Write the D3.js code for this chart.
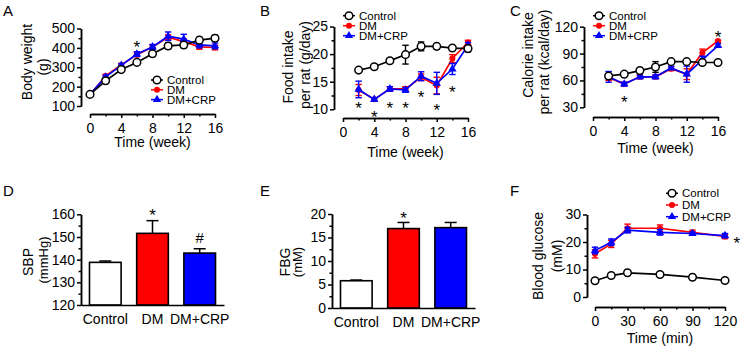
<!doctype html>
<html>
<head>
<meta charset="UTF-8">
<title>DM / CRP panels</title>
<script src="https://d3js.org/d3.v7.min.js"></script>
<style>
  body{margin:0;background:#fff;}
  svg{font-family:"Liberation Sans", Arial, sans-serif;}
  .axis path,.axis line{stroke:#000;stroke-width:1.5;}
  .axis text{font-size:14px;fill:#000;}
</style>
</head>
<body>
<svg id="fig" width="744" height="350"></svg>
<script>
// ---------------- data ----------------
var groups = ["Control", "DM", "DM+CRP"];

// A: body weight (g)
var weeks = [0, 2, 4, 6, 8, 10, 12, 14, 16];
var bwControl = [160, 230, 288, 325, 370, 410, 415, 440, 450];
var bwControlErr = [8, 8, 8, 8, 10, 15, 15, 15, 15];
var bwDM = [158, 255, 312, 365, 405, 455, 432, 405, 402];
var bwDMErr = [8, 8, 8, 10, 12, 12, 15, 12, 12];
var bwCRP = [160, 250, 310, 368, 405, 460, 445, 415, 410];
var bwCRPErr = [8, 8, 8, 12, 12, 22, 25, 15, 15];
var bwStars = [[6, 430]];

// B: food intake (g/day)
var weeksB = [2, 4, 6, 8, 10, 12, 14, 16];
var fiControl = [17.1, 17.7, 18.8, 19.9, 21.4, 21.4, 21.1, 21.0];
var fiControlErr = [0.2, 0.2, 0.2, 1.7, 0.8, 0.5, 0.3, 0.6];
var fiDM = [13.5, 11.8, 13.7, 13.7, 15.8, 14.3, 19.2, 22.1];
var fiDMErr = [1.0, 0.3, 0.4, 0.4, 0.6, 1.5, 0.7, 0.4];
var fiCRP = [13.6, 11.8, 13.7, 13.5, 16.0, 14.7, 17.3, 21.6];
var fiCRPErr = [1.5, 0.3, 0.4, 0.4, 0.8, 2.0, 1.0, 0.5];
var fiStars = [[2, 11.0], [4, 9.5], [6, 11.1], [8, 11.0], [10, 13.1], [12, 10.7], [14, 14.0]];

// C: calorie intake (kcal/day)
var ciControl = [65, 67, 71, 75, 81, 81, 80, 80];
var ciControlErr = [2, 1, 1, 6, 2, 2, 2, 1];
var ciDM = [63, 56, 64, 64, 73, 67, 91, 104];
var ciDMErr = [3, 2, 2, 2, 2, 6, 4, 1];
var ciCRP = [64, 56, 64, 64, 74, 67, 83, 99];
var ciCRPErr = [6, 2, 2, 2, 2, 9, 4, 2];
var ciStars = [[4, 41], [16, 114]];

// D: SBP (mmHg)
var sbp = [138.8, 151.6, 142.9];
var sbpErr = [0.6, 5.6, 1.9];
var sbpMarks = [["", 0], ["*", 161.8], ["#", 149.5]];

// E: FBG (mM)
var fbg = [5.8, 16.9, 17.1];
var fbgErr = [0.15, 1.3, 1.1];
var fbgMarks = [["", 0], ["*", 20.2], ["", 0]];

// F: blood glucose (mM)
var minutes = [0, 15, 30, 60, 90, 120];
var bgControl = [5.9, 7.8, 8.8, 8.2, 7.2, 6.0];
var bgControlErr = [0.3, 0.3, 0.3, 0.3, 0.3, 0.3];
var bgDM = [15.7, 19.3, 25.0, 25.0, 23.5, 22.0];
var bgDMErr = [1.5, 1.3, 1.5, 1.2, 0.8, 0.8];
var bgCRP = [16.9, 19.9, 24.3, 23.5, 23.1, 22.3];
var bgCRPErr = [1.2, 1.2, 1.0, 1.0, 0.5, 0.8];
var bgStars = [[131, 21.3]];

// ---------------- drawing ----------------
var svg = d3.select("#fig");
var RED = "#ff0000", BLUE = "#0000ff";

function zip(xs, ys, es) {
    return xs.map(function(x, i){ return {x: x, y: ys[i], e: es[i]}; });
}

function marker(g, kind, color) {
    if (kind == "circle") {
        g.append("circle").attr("r", 3.8).attr("fill", "#fff")
         .attr("stroke", "#000").attr("stroke-width", 1.5);
    } else if (kind == "dot") {
        g.append("circle").attr("r", 3).attr("fill", color);
    } else {
        g.append("path").attr("d", d3.symbol().type(d3.symbolTriangle).size(30)).attr("fill", color);
    }
}

function star(g, x, y, txt, size) {
    g.append("text").attr("x", x).attr("y", y).attr("dy", txt == "#" ? "0.35em" : "0.62em")
     .attr("text-anchor", "middle").attr("font-size", size || 17).text(txt);
}

function yTitle(g, lines) {
    lines.forEach(function(l){
        g.append("text").attr("transform", "translate(" + l[0] + "," + l[1] + ") rotate(-90)")
         .attr("text-anchor", "middle").attr("font-size", l[3] || 14).text(l[2]);
    });
}

function letter(x, y, t) {
    svg.append("text").attr("x", x).attr("y", y).attr("font-size", 15).text(t);
}

function linePanel(c) {
    var g = svg.append("g");
    var x = d3.scaleLinear().domain(c.xd).range(c.xr);
    var y = d3.scaleLinear().domain(c.yd).range(c.yr);

    // axes (detached, Prism style)
    var yMaj = d3.axisLeft(y).tickValues(c.yTicks).tickSize(4).tickPadding(2).tickSizeOuter(0);
    var yMin = d3.axisLeft(y).tickValues(c.yMinor).tickSize(2.5).tickFormat("").tickSizeOuter(0);
    g.append("g").attr("class", "axis").attr("transform", "translate(" + c.yAxisX + ",0)").call(yMaj);
    g.append("g").attr("class", "axis").attr("transform", "translate(" + c.yAxisX + ",0)").call(yMin);
    var xMaj = d3.axisBottom(x).tickValues(c.xTicks).tickSize(4).tickPadding(5).tickSizeOuter(0);
    var xMin = d3.axisBottom(x).tickValues(c.xMinor).tickSize(2.5).tickFormat("").tickSizeOuter(0);
    g.append("g").attr("class", "axis").attr("transform", "translate(0," + c.xAxisY + ")").call(xMaj);
    g.append("g").attr("class", "axis").attr("transform", "translate(0," + c.xAxisY + ")").call(xMin);

    var line = d3.line().x(function(d){ return x(d.x); }).y(function(d){ return y(d.y); });

    // draw order: DM, DM+CRP, Control on top
    [1, 2, 0].forEach(function(k){
        var s = c.series[k];
        var pts = zip(c.xs, s.ys, s.es);
        var sg = g.append("g");
        sg.append("path").datum(pts).attr("d", line).attr("fill", "none")
          .attr("stroke", s.color).attr("stroke-width", 1.7);
        var eb = sg.selectAll(".eb").data(pts).enter().append("g")
          .attr("stroke", s.color).attr("stroke-width", 1.4);
        eb.append("line").attr("x1", function(d){ return x(d.x); }).attr("x2", function(d){ return x(d.x); })
          .attr("y1", function(d){ return y(d.y - d.e); }).attr("y2", function(d){ return y(d.y + d.e); });
        [-1, 1].forEach(function(sn){
            eb.append("line").attr("x1", function(d){ return x(d.x) - 3.2; }).attr("x2", function(d){ return x(d.x) + 3.2; })
              .attr("y1", function(d){ return y(d.y + sn * d.e); }).attr("y2", function(d){ return y(d.y + sn * d.e); });
        });
        sg.selectAll(".mk").data(pts).enter().append("g")
          .attr("transform", function(d){ return "translate(" + x(d.x) + "," + y(d.y) + ")"; })
          .each(function(){ marker(d3.select(this), s.kind, s.color); });
    });

    c.stars.forEach(function(s){ star(g, x(s[0]), y(s[1]), "*"); });

    // legend: Control, DM, DM+CRP
    c.series.forEach(function(s, i){
        var ly = c.legend[1] + i * c.legend[2];
        g.append("line").attr("x1", c.legend[0] - 6).attr("x2", c.legend[0] + 6)
         .attr("y1", ly).attr("y2", ly).attr("stroke", s.color).attr("stroke-width", 1.5);
        var mg = g.append("g").attr("transform", "translate(" + c.legend[0] + "," + ly + ")");
        marker(mg, s.kind, s.color);
        g.append("text").attr("x", c.legend[0] + 10).attr("y", ly + 4).attr("font-size", 11.5).text(s.name);
    });

    g.append("text").attr("x", (c.xr[0] + c.xr[1]) / 2).attr("y", c.xTitleY)
     .attr("text-anchor", "middle").attr("font-size", 14).text(c.xTitle);
    yTitle(g, c.yTitle);
}

function barPanel(c) {
    var g = svg.append("g");
    var x = d3.scaleBand().domain(groups).range(c.xr).paddingInner(0.33).paddingOuter(0.18);
    var y = d3.scaleLinear().domain(c.yd).range(c.yr);
    var fills = ["#fff", RED, BLUE];

    var bars = g.selectAll(".bar").data(c.vals).enter().append("g");
    bars.append("line")
        .attr("x1", function(d, i){ return x(groups[i]) + x.bandwidth() / 2; })
        .attr("x2", function(d, i){ return x(groups[i]) + x.bandwidth() / 2; })
        .attr("y1", function(d){ return y(d); })
        .attr("y2", function(d, i){ return y(d + c.errs[i]); })
        .attr("stroke", "#000").attr("stroke-width", 1.5);
    bars.append("line")
        .attr("x1", function(d, i){ return x(groups[i]) + x.bandwidth() / 2 - 6; })
        .attr("x2", function(d, i){ return x(groups[i]) + x.bandwidth() / 2 + 6; })
        .attr("y1", function(d, i){ return y(d + c.errs[i]); })
        .attr("y2", function(d, i){ return y(d + c.errs[i]); })
        .attr("stroke", "#000").attr("stroke-width", 1.5);
    bars.append("rect")
        .attr("x", function(d, i){ return x(groups[i]); })
        .attr("y", function(d){ return y(d); })
        .attr("width", x.bandwidth())
        .attr("height", function(d){ return y(c.yd[0]) - y(d); })
        .attr("fill", function(d, i){ return fills[i]; })
        .attr("stroke", "#000").attr("stroke-width", 1.6);

    var yMaj = d3.axisLeft(y).tickValues(c.yTicks).tickSize(4).tickPadding(2).tickSizeOuter(0);
    var yMin = d3.axisLeft(y).tickValues(c.yMinor).tickSize(2.5).tickFormat("").tickSizeOuter(0);
    g.append("g").attr("class", "axis").attr("transform", "translate(" + c.xr[0] + ",0)").call(yMaj);
    g.append("g").attr("class", "axis").attr("transform", "translate(" + c.xr[0] + ",0)").call(yMin);
    var xa = d3.axisBottom(x).tickSize(0).tickPadding(9).tickSizeOuter(0);
    g.append("g").attr("class", "axis").attr("transform", "translate(0," + c.yr[0] + ")").call(xa)
     .selectAll("text").attr("font-size", 13.5);

    c.marks.forEach(function(m, i){
        if (m[0]) star(g, x(groups[i]) + x.bandwidth() / 2, y(m[1]), m[0], m[0] == "#" ? 15 : 17);
    });
    yTitle(g, c.yTitle);
}

function trio(ctrl, ctrlErr, dm, dmErr, crp, crpErr) {
    return [
        {name: "Control", ys: ctrl, es: ctrlErr, color: "#000", kind: "circle"},
        {name: "DM", ys: dm, es: dmErr, color: RED, kind: "dot"},
        {name: "DM+CRP", ys: crp, es: crpErr, color: BLUE, kind: "tri"}
    ];
}

// ---- panel A ----
letter(3, 16, "A");
linePanel({
    xd: [0, 16], xr: [90, 215], yd: [100, 500], yr: [106, 28.5],
    yAxisX: 81, xAxisY: 114,
    xs: weeks, xTicks: [0, 4, 8, 12, 16], xMinor: [2, 6, 10, 14],
    yTicks: [100, 200, 300, 400, 500], yMinor: [150, 250, 350, 450],
    series: trio(bwControl, bwControlErr, bwDM, bwDMErr, bwCRP, bwCRPErr),
    stars: bwStars,
    legend: [157, 80, 9.8],
    xTitle: "Time (week)", xTitleY: 147,
    yTitle: [[32, 62, "Body weight"], [48, 67, "(g)"]]
});

// ---- panel B ----
letter(260, 16, "B");
linePanel({
    xd: [0, 16], xr: [343, 468], yd: [10, 25], yr: [109.3, 26.5],
    yAxisX: 334, xAxisY: 118,
    xs: weeksB, xTicks: [0, 4, 8, 12, 16], xMinor: [2, 6, 10, 14],
    yTicks: [10, 15, 20, 25], yMinor: [12.5, 17.5, 22.5],
    series: trio(fiControl, fiControlErr, fiDM, fiDMErr, fiCRP, fiCRPErr),
    stars: fiStars,
    legend: [349, 15.7, 10],
    xTitle: "Time (week)", xTitleY: 157,
    yTitle: [[293, 67, "Food intake"], [310, 65, "per rat (g/day)"]]
});

// ---- panel C ----
letter(510, 16, "C");
linePanel({
    xd: [0, 16], xr: [593, 718], yd: [30, 120], yr: [107.3, 26.7],
    yAxisX: 584, xAxisY: 117,
    xs: weeksB, xTicks: [0, 4, 8, 12, 16], xMinor: [2, 6, 10, 14],
    yTicks: [30, 60, 90, 120], yMinor: [45, 75, 105],
    series: trio(ciControl, ciControlErr, ciDM, ciDMErr, ciCRP, ciCRPErr),
    stars: ciStars,
    legend: [599, 15.7, 10],
    xTitle: "Time (week)", xTitleY: 153,
    yTitle: [[533, 55, "Calorie intake"], [549, 62, "per rat (kcal/day)"]]
});

// ---- panel D ----
letter(3, 196, "D");
barPanel({
    xr: [81, 224], yd: [120, 160], yr: [305, 214.3],
    vals: sbp, errs: sbpErr, marks: sbpMarks,
    yTicks: [120, 130, 140, 150, 160], yMinor: [125, 135, 145, 155],
    yTitle: [[33, 262, "SBP"], [48, 260, "(mmHg)", 13]]
});

// ---- panel E ----
letter(260, 196, "E");
barPanel({
    xr: [332, 475], yd: [0, 20], yr: [308, 214],
    vals: fbg, errs: fbgErr, marks: fbgMarks,
    yTicks: [0, 5, 10, 15, 20], yMinor: [2.5, 7.5, 12.5, 17.5],
    yTitle: [[290, 262, "FBG"], [302, 262, "(mM)", 13]]
});

// ---- panel F ----
letter(510, 196, "F");
linePanel({
    xd: [0, 120], xr: [595, 725], yd: [0, 30], yr: [297, 214.5],
    yAxisX: 587, xAxisY: 307,
    xs: minutes, xTicks: [0, 30, 60, 90, 120], xMinor: [15, 45, 75, 105],
    yTicks: [0, 10, 20, 30], yMinor: [5, 15, 25],
    series: trio(bgControl, bgControlErr, bgDM, bgDMErr, bgCRP, bgCRPErr),
    stars: bgStars,
    legend: [672, 193.3, 11.7],
    xTitle: "Time (min)", xTitleY: 343,
    yTitle: [[543, 256, "Blood glucose"], [562, 256, "(mM)"]]
});
</script>
</body>
</html>
